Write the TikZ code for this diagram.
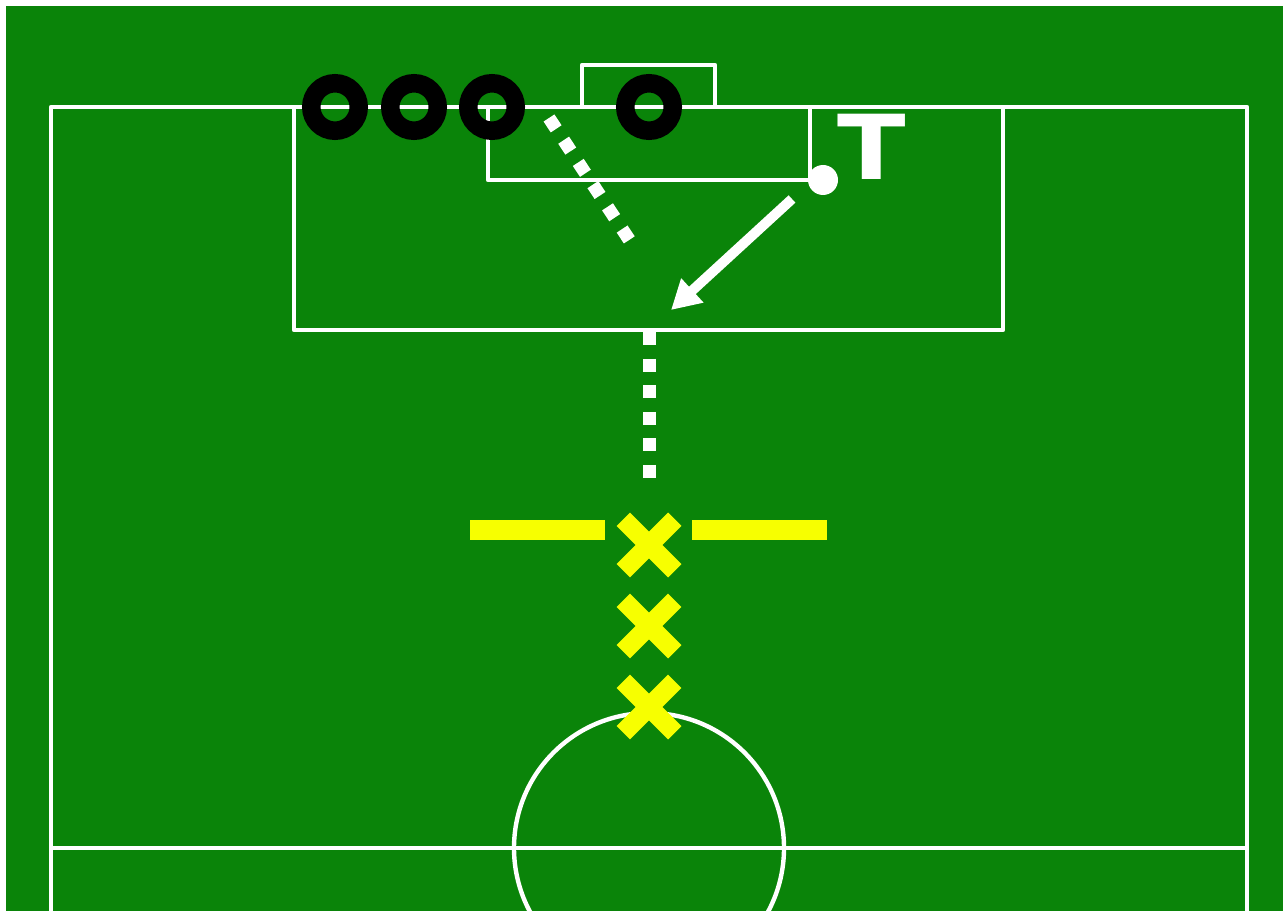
\documentclass[tikz,border=0pt]{standalone}
\usepackage{fontspec}
\setsansfont{DejaVu Sans}
\usetikzlibrary{positioning,arrows.meta,shapes.misc}
\definecolor{pitch}{RGB}{10,132,9}
\definecolor{marker}{RGB}{247,255,0}

\begin{document}
\begin{tikzpicture}[x=0.02cm,y=-0.02cm,
	line/.style={draw=white,line width=0.088cm,line join=round},
	player/.style={circle,draw=black,line width=0.37cm,minimum size=0.95cm,inner sep=0pt},
	defender/.style={cross out,draw=marker,line width=0.38cm,minimum size=1.03cm,inner sep=0pt,outer sep=0pt},
	wall/.style={fill=marker,minimum width=2.7cm,minimum height=0.4cm,inner sep=0pt},
	run/.style={draw=white,line width=0.26cm,dash pattern=on 0.26cm off 0.272cm}
	]
		
		\useasboundingbox (0,0) rectangle (1283,911);
		\clip (0,0) rectangle (1283,911);
		\fill[white] (0,0) rectangle (1283,911);
		\fill[pitch] (6,6) rectangle (1283,911);
		
		% pitch markings
		\draw[line] (51,930) -- (51,107) -- (1247,107) -- (1247,930);
		\draw[line] (51,848) -- (1247,848);
		\draw[line] (649,848) circle[radius=135];
		\draw[line] (294,107) -- (294,330) -- (1003,330) -- (1003,107);
		\draw[line] (488,107) -- (488,180) -- (810,180) -- (810,107);
		\draw[line] (582,107) -- (582,65) -- (715,65) -- (715,107);
		
		% runs
		\coordinate (runA) at (549,118);
		\coordinate (runB) at (630,241);
		\draw[run] (runA) -- (runB);
		
		\coordinate (boxB) at (649,332);
		\coordinate (runC) at (649,478);
		\draw[run] (boxB) -- (runC);
		
		% pass
		\coordinate (kickA) at (792,199);
		\coordinate (kickB) at (671,310);
		\draw[white,line width=0.2cm,-{Triangle[length=0.58cm,width=0.62cm]}]
		(kickA) -- (kickB);
		
		% attackers
		\node[player] (p1) at (335,107) {};
		\node[player] (p2) at (414,107) {};
		\node[player] (p3) at (492,107) {};
		\node[player] (p4) at (649,107) {};
		
		\node[
		circle,
		fill=white,
		minimum size=0.6cm,
		inner sep=0pt
		] (ball) at (823,180) {};
		
		\node[
		text=white,
		font=\sffamily\bfseries\fontsize{51}{51}\selectfont,
		anchor=base,
		inner sep=0pt,
		xscale=1.12,
		transform shape
		] (taker) at (872,180) {T};
		
		% defenders
		\node[wall] (wl) at (537.5,530) {};
		\node[wall] (wr) at (759.5,530) {};
		\node[defender] (d1) at (649,545) {};
		\node[defender] (d2) at (649,626) {};
		\node[defender] (d3) at (649,707) {};
		
	\end{tikzpicture}
\end{document}
